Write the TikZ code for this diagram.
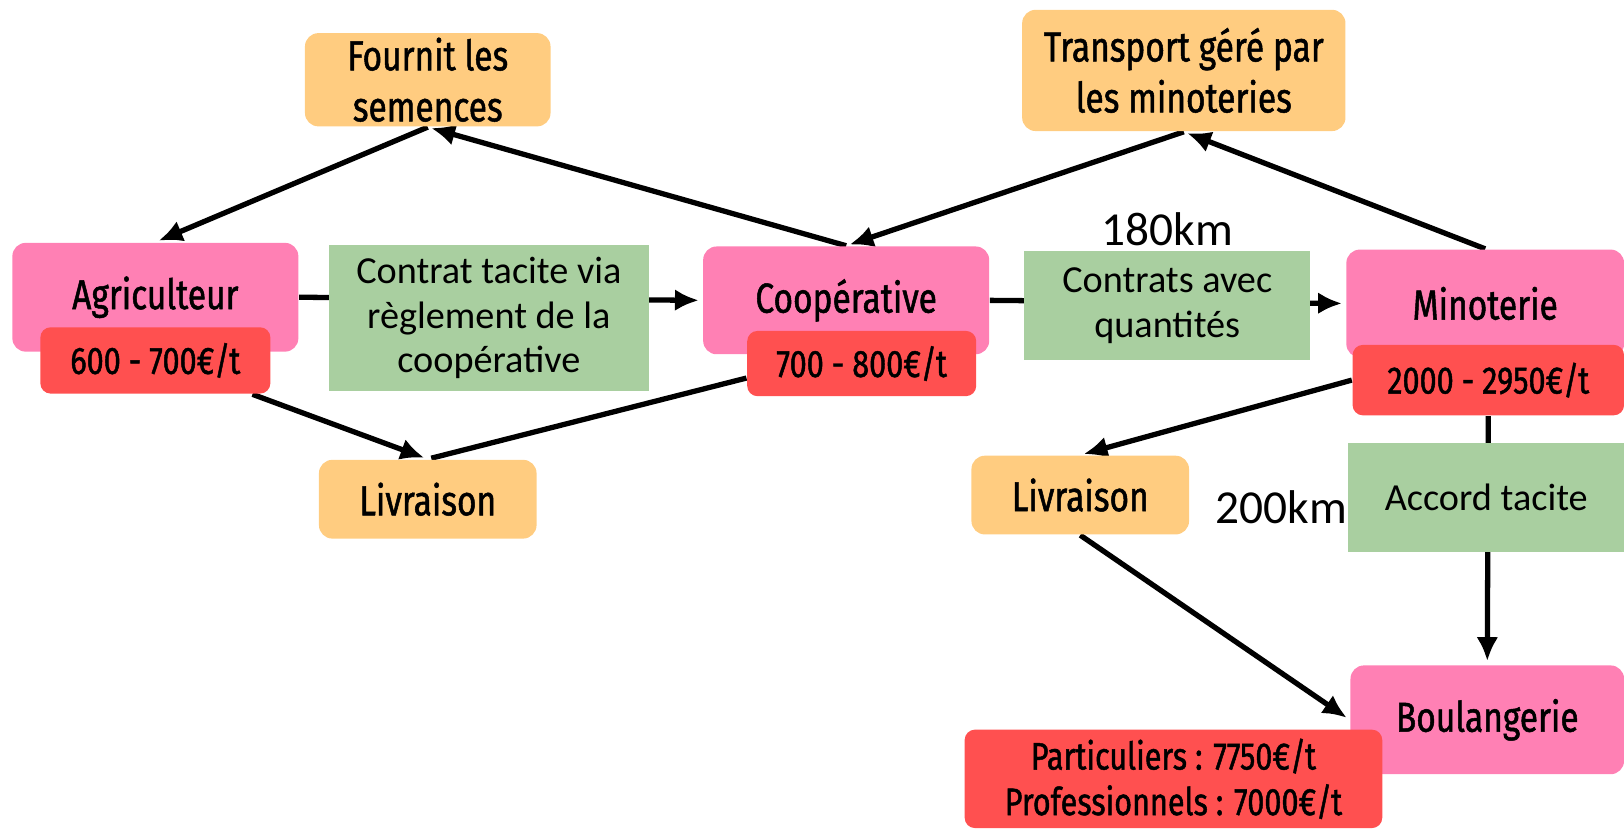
\documentclass[tikz,border=0pt]{standalone}
\usepackage{fontspec}
\setmainfont{Carlito}
\newfontfamily\labelfont[FakeStretch=0.8,FakeBold=1.2]{Fira Sans}
\usepackage{xcolor}
\usetikzlibrary{arrows.meta}
\usetikzlibrary{shapes,backgrounds}
\definecolor{boxpink}{HTML}{FF80B4}
\definecolor{boxorange}{HTML}{FFCC80}
\definecolor{boxred}{HTML}{FF5050}
\definecolor{boxgreen}{HTML}{A9CFA0}
\begin{document}
\begin{tikzpicture}[x=0.01cm,y=-0.01cm,>={Latex[length=2.3mm,width=2.1mm]},shorten >=1pt,
                    flow/.style={->,line width=1.45pt},
                    link/.style={-,line width=1.45pt},
                    actor node/.style={rectangle,rounded corners=0.13cm,fill=boxpink,inner sep=0pt,font=\labelfont\fontsize{11.5}{14}\selectfont},
                    task node/.style={rectangle,rounded corners=0.13cm,fill=boxorange,inner sep=0pt,align=center,font=\labelfont\fontsize{11.5}{14}\selectfont},
                    price node/.style={rectangle,rounded corners=0.1cm,fill=boxred,inner sep=0pt,align=center,font=\labelfont\fontsize{10.5}{12.5}\selectfont},
                    deal node/.style={rectangle,fill=boxgreen,inner sep=0pt,align=center,font=\fontsize{10.5}{12.3}\selectfont},
                    dist node/.style={inner sep=0pt,font=\fontsize{13}{15}\selectfont}]

  \useasboundingbox (0,0) rectangle (1568,800);

  \node[task node, minimum width=2.37cm, minimum height=0.90cm] (seeds) at (413,77) {Fournit les\\semences};
  \node[task node, minimum width=3.12cm, minimum height=1.17cm] (transport) at (1143,68) {Transport géré par\\les minoteries};

  \node[actor node, minimum width=2.76cm, minimum height=1.05cm] (farmer) at (150,287) {Agriculteur};
  \node[price node, minimum width=2.22cm, minimum height=0.64cm] (farmerprice) at (150,348) {600 - 700€/t};
  \node[deal node, minimum width=3.09cm, minimum height=1.41cm] (coopdeal) at (472,307) {Contrat tacite via\\règlement de la\\coopérative};

  \node[actor node, minimum width=2.76cm, minimum height=1.04cm] (coop) at (817,290) {Coopérative};
  \node[price node, minimum width=2.21cm, minimum height=0.63cm] (coopprice) at (832,351) {700 - 800€/t};
  \node[deal node, minimum width=2.76cm, minimum height=1.06cm] (milldeal) at (1127,295) {Contrats avec\\quantités};
  \node[dist node] (dist1) at (1127,221) {180km};

  \node[actor node, minimum width=2.68cm, minimum height=1.04cm] (mill) at (1434,293) {Minoterie};
  \node[price node, minimum width=2.62cm, minimum height=0.68cm] (millprice) at (1437,367) {2000 - 2950€/t};

  \node[task node, minimum width=2.10cm, minimum height=0.76cm] (delivA) at (413,482) {Livraison};
  \node[task node, minimum width=2.10cm, minimum height=0.76cm] (delivB) at (1043,478) {Livraison};
  \node[dist node] (dist2) at (1237,490) {200km};
  \node[deal node, minimum width=2.66cm, minimum height=1.05cm] (bakerdeal) at (1435,480) {Accord tacite};

  \node[actor node, minimum width=2.64cm, minimum height=1.05cm] (baker) at (1436,695) {Boulangerie};
  \node[price node, minimum width=4.03cm, minimum height=0.95cm] (bakerprice) at (1133,752) {Particuliers : 7750€/t\\Professionnels : 7000€/t};

  \begin{pgfonlayer}{background}
  \path[flow]
    (seeds.south) edge (farmer.north)
    (coop.north) edge (seeds.south)
    (transport.south) edge (coop.north)
    (mill.north) edge (transport.south)
    (farmer.east) edge (coop.west)
    (coop.east) edge (mill.west)
    ([xshift=-0.18cm]farmerprice.south east) edge (delivA.north)
    (millprice.west) edge (delivB.north)
    (delivB.south) edge (baker.west)
    (millprice.south) edge (baker.north);
  \path[link]
    ([yshift=-0.14cm]coopprice.west) edge (delivA.north);
  \end{pgfonlayer}
\end{tikzpicture}
\end{document}
